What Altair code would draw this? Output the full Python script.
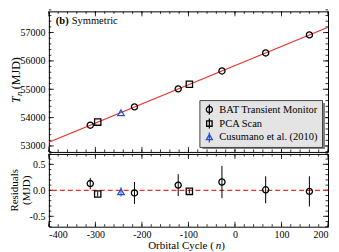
import altair as alt
import pandas as pd
import numpy as np

# ---------------- data ----------------
bat_n = [-311, -216, -122, -28, 66, 160]
bat_T = [53733, 54379, 55014, 55645, 56282, 56917]
bat_res = [0.13, -0.05, 0.10, 0.16, 0.01, -0.02]
bat_err = [0.11, 0.21, 0.21, 0.31, 0.26, 0.29]

pca_n = [-295, -98]
pca_T = [53842, 55175]
pca_res = [-0.07, -0.02]
pca_err = [0.05, 0.04]

cus_n = [-245]
cus_T = [54172]
cus_res = [-0.03]
cus_err = [0.09]

fit_n = [-400, 200]
fit_T = [53131, 57187]

series = ["BAT Transient Monitor", "PCA Scan", "Cusumano et al. (2010)"]
series_colors = ["#000000", "#000000", "#2350d8"]

x_major = [-400, -300, -200, -100, 0, 100, 200]
x_minor = list(range(-400, 201, 20))
yt_major = [53000, 54000, 55000, 56000, 57000]
yt_minor = list(range(52800, 57801, 200))
yb_major = [-0.5, 0.0, 0.5]
yb_minor = [round(v, 1) for v in np.arange(-0.7, 0.71, 0.1)]

# ---------------- layout ----------------
W = 280
H1 = 141
H2 = 73
FONT = "Liberation Serif, Times New Roman, serif"
RED = "#e8302a"

xscale = alt.Scale(domain=[-400, 200], nice=False, zero=False)
yt_scale = alt.Scale(domain=[52790, 57747], nice=False, zero=False)
yb_scale = alt.Scale(domain=[-0.7, 0.7], nice=False, zero=False)

one = pd.DataFrame({"a": [0]})

minus_fix = "replace(datum.label, '\u2212', '-')"
yt_axis = alt.Axis(values=yt_major, format="d", ticks=False, domain=False, grid=False,
                   title=None, labelPadding=4, labelFont=FONT, labelFontSize=10,
                   labelColor="black")
xb_axis = alt.Axis(values=x_major, format="d", ticks=False, domain=False, grid=False,
                   title=None, labelPadding=3, labelFont=FONT, labelFontSize=10,
                   labelColor="black", labelExpr=minus_fix)
yb_axis = alt.Axis(values=yb_major, format=".1f", ticks=False, domain=False, grid=False,
                   title=None, labelPadding=4, labelFont=FONT, labelFontSize=10,
                   labelColor="black", labelExpr=minus_fix)


def df_pts(n, t, r, e):
    return pd.DataFrame({"n": n, "T": t, "res": r, "lo": [a - b for a, b in zip(r, e)],
                         "hi": [a + b for a, b in zip(r, e)]})


bat = df_pts(bat_n, bat_T, bat_res, bat_err)
pca = df_pts(pca_n, pca_T, pca_res, pca_err)
cus = df_pts(cus_n, cus_T, cus_res, cus_err)


def tick_layers(xaxis, yscale, yaxis, ymaj, ymin, H):
    layers = []
    for vals, L in [(x_major, 5), (x_minor, 2.5)]:
        d = pd.DataFrame({"v": vals})
        b = alt.Chart(d).mark_rule(color="black", strokeWidth=0.8)
        X = alt.X("v:Q", scale=xscale, axis=xaxis)
        layers.append(b.encode(x=X, y=alt.value(0), y2=alt.value(L)))
        layers.append(b.encode(x=X, y=alt.value(H), y2=alt.value(H - L)))
    for vals, L in [(ymaj, 5), (ymin, 2.5)]:
        d = pd.DataFrame({"v": vals})
        b = alt.Chart(d).mark_rule(color="black", strokeWidth=0.8)
        Y = alt.Y("v:Q", scale=yscale, axis=yaxis)
        layers.append(b.encode(y=Y, x=alt.value(0), x2=alt.value(L)))
        layers.append(b.encode(y=Y, x=alt.value(W), x2=alt.value(W - L)))
    return layers


def txt(s, x, y, size=10.5, weight="normal", style="normal", angle=0, align="left",
        baseline="alphabetic"):
    return alt.Chart(one).mark_text(text=s, font=FONT, fontSize=size, fontWeight=weight,
                                    fontStyle=style, angle=angle, align=align,
                                    baseline=baseline, color="black").encode(
        x=alt.value(x), y=alt.value(y))


# ---------------- top panel ----------------
fit_line = alt.Chart(pd.DataFrame({"n": fit_n, "T": fit_T})).mark_line(
    color=RED, strokeWidth=1.2).encode(
    x=alt.X("n:Q", scale=xscale, axis=None),
    y=alt.Y("T:Q", scale=yt_scale, axis=yt_axis))


def top_pts(d, shape, color, size):
    return alt.Chart(d).mark_point(shape=shape, color=color, filled=False, size=size,
                                   strokeWidth=1.3, opacity=1).encode(
        x=alt.X("n:Q", scale=xscale, axis=None),
        y=alt.Y("T:Q", scale=yt_scale, axis=yt_axis))


p_bat = top_pts(bat, "circle", "black", 38)
p_pca = top_pts(pca, "square", "black", 40)
p_cus = top_pts(cus, "triangle-up", series_colors[2], 42)

shape_paths = [
    "M0,-1L0,1M-0.62,0A0.62,0.62,0,1,0,0.62,0A0.62,0.62,0,1,0,-0.62,0Z",
    "M0,-1L0,1M-0.55,-0.55L0.55,-0.55L0.55,0.55L-0.55,0.55Z",
    "M0,-1L0,1M0,-0.62L0.6,0.45L-0.6,0.45Z",
]
leg_df = pd.DataFrame({"src": series, "n": [bat_n[0], pca_n[0], cus_n[0]],
                       "T": [bat_T[0], pca_T[0], cus_T[0]]})
legend = alt.Legend(title=None, orient="none", legendX=151, legendY=89,
                    fillColor="#e4e4e4", strokeColor="#444444", padding=4,
                    labelFont=FONT, labelFontSize=10.5, labelColor="black",
                    symbolSize=100, symbolStrokeWidth=1.3, symbolOpacity=1,
                    symbolFillColor="transparent", clipHeight=11,
                    rowPadding=3, labelOffset=4)
p_leg = alt.Chart(leg_df).mark_point(filled=False, opacity=0, size=40).encode(
    x=alt.X("n:Q", scale=xscale, axis=None),
    y=alt.Y("T:Q", scale=yt_scale, axis=yt_axis),
    color=alt.Color("src:N", scale=alt.Scale(domain=series, range=series_colors), legend=legend),
    shape=alt.Shape("src:N", scale=alt.Scale(domain=series, range=shape_paths), legend=legend))

shadow = alt.Chart(one).mark_rect(color="#808080").encode(
    x=alt.value(154), x2=alt.value(277), y=alt.value(92), y2=alt.value(138))

label_b = txt("(b)", 7, 13, size=10.5, weight="bold")
label_sym = txt("Symmetric", 23, 13, size=10.5)

yt_T = txt("T", -33, 92, size=12, style="italic", angle=270, baseline="middle")
yt_n = txt("n", -30, 85, size=9, style="italic", angle=270, baseline="middle")
yt_rest = txt("(MJD)", -33, 78, size=12, angle=270, baseline="middle")

top = alt.layer(
    *tick_layers(None, yt_scale, yt_axis, yt_major, yt_minor, H1),
    fit_line, p_bat, p_pca, p_cus, shadow, p_leg,
    label_b, label_sym, yt_T, yt_n, yt_rest,
).properties(width=W, height=H1)

# ---------------- bottom panel ----------------
zero_line = alt.Chart(one).mark_rule(color=RED, strokeWidth=1.2, strokeDash=[5, 3]).encode(
    y=alt.datum(0, scale=yb_scale, axis=yb_axis))


def err_bars(d, color):
    return alt.Chart(d).mark_rule(color=color, strokeWidth=1).encode(
        x=alt.X("n:Q", scale=xscale, axis=xb_axis),
        y=alt.Y("lo:Q", scale=yb_scale, axis=yb_axis), y2="hi:Q")


def res_pts(d, shape, color, size):
    return alt.Chart(d).mark_point(shape=shape, color=color, filled=False, size=size,
                                   strokeWidth=1.3, opacity=1).encode(
        x=alt.X("n:Q", scale=xscale, axis=xb_axis),
        y=alt.Y("res:Q", scale=yb_scale, axis=yb_axis))


xt1 = txt("Orbital Cycle (", 165.5, H2 + 22.5, size=11, align="right")
xt2 = txt("n", 167.5, H2 + 22.5, size=11, style="italic")
xt3 = txt(")", 173, H2 + 22.5, size=11)
yb_t1 = txt("Residuals", -34, H2 / 2, size=11, angle=270, align="center", baseline="middle")
yb_t2 = txt("(MJD)", -22, H2 / 2, size=11, angle=270, align="center", baseline="middle")

bottom = alt.layer(
    *tick_layers(xb_axis, yb_scale, yb_axis, yb_major, yb_minor, H2),
    zero_line,
    err_bars(bat, "black"), err_bars(pca, "black"), err_bars(cus, series_colors[2]),
    res_pts(bat, "circle", "black", 38),
    res_pts(pca, "square", "black", 40),
    res_pts(cus, "triangle-up", series_colors[2], 42),
    xt1, xt2, xt3, yb_t1, yb_t2,
).properties(width=W, height=H2)

chart = alt.vconcat(top, bottom, spacing=0).properties(
    background="white", padding=0
).configure_view(stroke="black", strokeWidth=1)

chart.save("out.html", embed_options={"renderer": "svg", "actions": False})
